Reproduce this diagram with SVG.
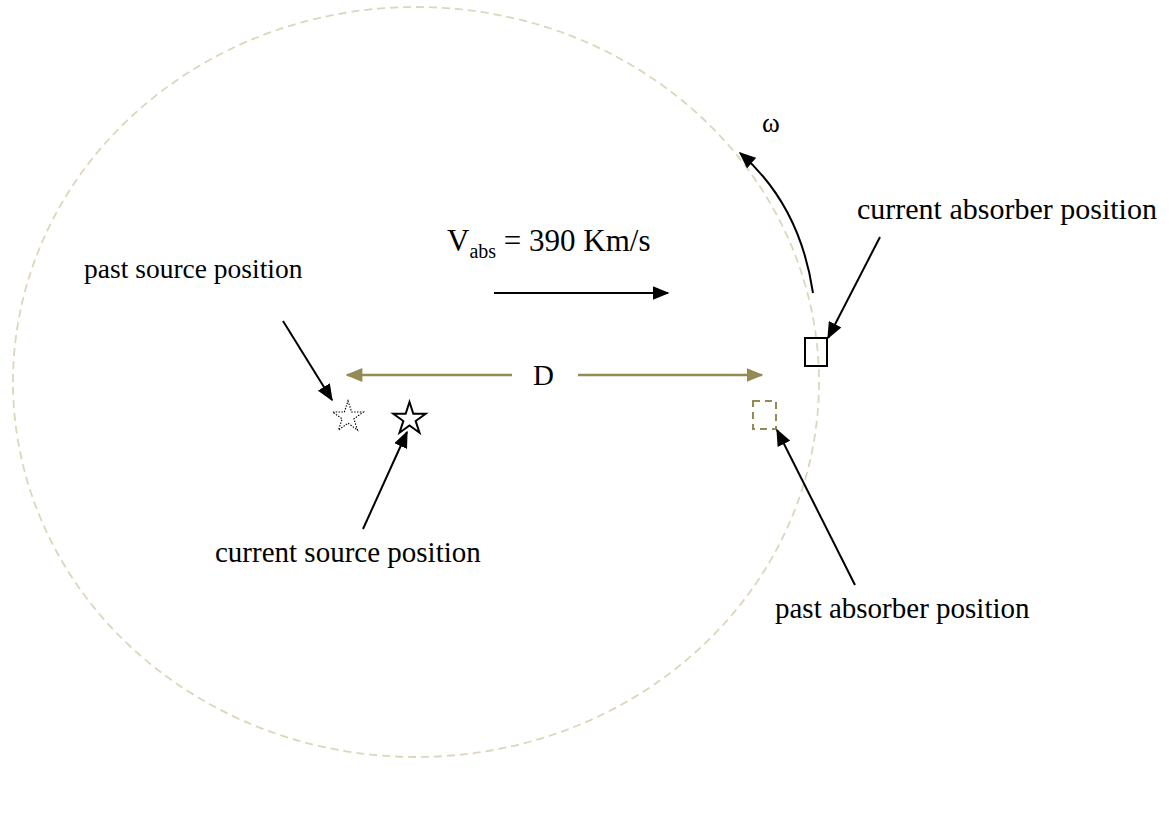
<svg xmlns="http://www.w3.org/2000/svg" width="1169" height="815" viewBox="0 0 1169 815">
<style>
.lbl{font-family:"Liberation Serif","Times New Roman",serif;font-size:29px;fill:#000}
.blk{stroke:#000;stroke-width:2;fill:none}
.olv{stroke:#948a54;stroke-width:2.5;fill:none}
</style>
<defs>
<marker id="ab" viewBox="0 0 12 10" refX="11" refY="5" markerWidth="17" markerHeight="14" markerUnits="userSpaceOnUse" orient="auto"><path d="M0,0 L12,5 L0,10 Z" fill="#000"/></marker>
<marker id="ao" viewBox="0 0 12 10" refX="11" refY="5" markerWidth="17" markerHeight="14" markerUnits="userSpaceOnUse" orient="auto"><path d="M0,0 L12,5 L0,10 Z" fill="#948a54"/></marker>
<polygon id="star" points="0,-17 3.82,-5.26 16.17,-5.25 6.18,2.01 9.99,13.75 0,6.5 -9.99,13.75 -6.18,2.01 -16.17,-5.25 -3.82,-5.26"/>
</defs>
<rect width="1169" height="815" fill="#fff"/>
<g id="orbit"><ellipse cx="416" cy="382" rx="403" ry="375" fill="none" stroke="#ddd6bb" stroke-width="1.8" stroke-dasharray="8,5"/></g>
<g id="past-source"><use href="#star" transform="translate(348,417) scale(0.95)" fill="none" stroke="#000" stroke-width="1.2" stroke-dasharray="1.5,1.5"/></g>
<g id="current-source"><use href="#star" transform="translate(409.5,419)" fill="none" stroke="#000" stroke-width="2"/></g>
<g id="current-absorber"><rect x="805" y="338" width="22" height="28" fill="none" stroke="#000" stroke-width="2"/></g>
<g id="past-absorber"><rect x="753" y="401" width="23" height="28" fill="none" stroke="#948a54" stroke-width="2" stroke-dasharray="7,5"/></g>
<g id="connectors">
<line class="blk" x1="283" y1="321" x2="332" y2="400" marker-end="url(#ab)"/>
<line class="blk" x1="363" y1="529" x2="407" y2="432" marker-end="url(#ab)"/>
<line class="blk" x1="880" y1="237" x2="828" y2="338" marker-end="url(#ab)"/>
<line class="blk" x1="855" y1="585" x2="777" y2="430" marker-end="url(#ab)"/>
<line class="blk" x1="494" y1="293" x2="668" y2="293" marker-end="url(#ab)"/>
<path class="blk" d="M813,293 Q800,205 740,153" marker-end="url(#ab)"/>
<line class="olv" x1="512" y1="375" x2="347" y2="375" marker-end="url(#ao)"/>
<line class="olv" x1="578" y1="375" x2="762" y2="375" marker-end="url(#ao)"/>
</g>
<g id="labels">
<text class="lbl" x="84" y="278" style="font-size:27.5px">past source position</text>
<text class="lbl" x="857" y="219" style="font-size:30px">current absorber position</text>
<text class="lbl" x="215" y="562">current source position</text>
<text class="lbl" x="775" y="618">past absorber position</text>
<text class="lbl" x="533" y="385">D</text>
<text class="lbl" x="762" y="132" style="font-size:27px">ω</text>
<text class="lbl" x="447" y="251" style="font-size:31px">V<tspan font-size="20" dy="7">abs</tspan><tspan dy="-7"> = 390 Km/s</tspan></text>
</g>
</svg>
